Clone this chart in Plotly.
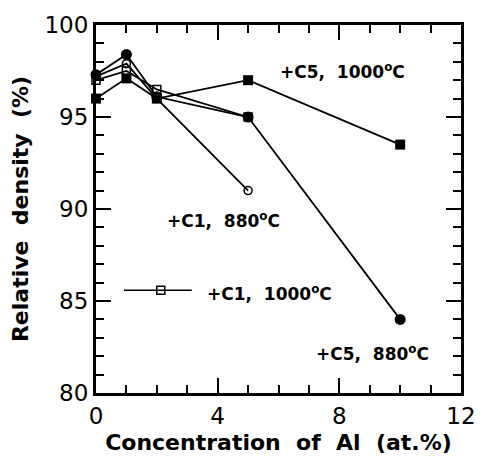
import plotly.graph_objects as go

# Data
al_conc = [0, 1, 2, 5, 10]
al_conc_c1 = [0, 1, 2, 5]
c5_1000 = [96.0, 97.1, 96.0, 97.0, 93.5]
c5_880 = [97.3, 98.4, 96.1, 95.0, 84.0]
c1_880 = [97.2, 97.9, 96.0, 91.0]
c1_1000 = [97.0, 97.5, 96.5, 95.0]

x_ticks = [0, 4, 8, 12]
y_ticks = [80, 85, 90, 95, 100]

LINE = dict(color="black", width=1.8)

fig = go.Figure()
fig.add_trace(go.Scatter(x=al_conc_c1, y=c1_1000, mode="lines+markers", line=LINE,
                         marker=dict(symbol="square-open", size=8, color="black", line=dict(width=1.5)),
                         cliponaxis=False, showlegend=False))
fig.add_trace(go.Scatter(x=al_conc_c1, y=c1_880, mode="lines+markers", line=LINE,
                         marker=dict(symbol="circle-open", size=8, color="black", line=dict(width=1.5)),
                         cliponaxis=False, showlegend=False))
fig.add_trace(go.Scatter(x=al_conc, y=c5_1000, mode="lines+markers", line=LINE,
                         marker=dict(symbol="square", size=10, color="black"),
                         cliponaxis=False, showlegend=False))
fig.add_trace(go.Scatter(x=al_conc, y=c5_880, mode="lines+markers", line=LINE,
                         marker=dict(symbol="circle", size=11, color="black"),
                         cliponaxis=False, showlegend=False))

ann_font = dict(family="DejaVu Sans", size=17, color="black")
labels = [
    ("<b>+C5,\u00a0\u00a01000<sup>o</sup>C</b>", 8.12, 97.5),
    ("<b>+C1,\u00a0\u00a0880<sup>o</sup>C</b>", 4.2, 89.4),
    ("<b>+C1,\u00a0\u00a01000<sup>o</sup>C</b>", 5.7, 85.45),
    ("<b>+C5,\u00a0\u00a0880<sup>o</sup>C</b>", 9.1, 82.2),
]
for text, x, y in labels:
    fig.add_annotation(x=x, y=y, text=text, showarrow=False, font=ann_font,
                       xanchor="center", yanchor="middle")

# legend key for +C1, 1000 C
fig.add_shape(type="line", x0=0.92, x1=3.15, y0=85.58, y1=85.58,
              line=dict(color="black", width=1.5))
fig.add_trace(go.Scatter(x=[2.13], y=[85.58], mode="markers",
                         marker=dict(symbol="square-open", size=8, color="black", line=dict(width=1.5)),
                         showlegend=False, hoverinfo="skip"))

axis_common = dict(
    showline=True, linecolor="black", linewidth=3, mirror="ticks",
    ticks="inside", ticklen=15, tickwidth=2, tickcolor="black",
    showgrid=False, zeroline=False,
    tickfont=dict(family="DejaVu Sans", size=23, color="black"),
)

fig.update_xaxes(range=[0, 12], tickvals=x_ticks, ticktext=[str(v) for v in x_ticks],
                 minor=dict(ticks="inside", ticklen=8, tickwidth=2, tickcolor="black", dtick=1, showgrid=False),
                 title=dict(text="<b>Concentration  of  Al  (at.%)</b>",
                            font=dict(family="DejaVu Sans", size=22, color="black"), standoff=8),
                 **axis_common)
fig.update_yaxes(range=[80, 100], tickvals=y_ticks, ticktext=[str(v) for v in y_ticks],
                 minor=dict(ticks="inside", ticklen=8, tickwidth=2, tickcolor="black", dtick=1, showgrid=False),
                 title=dict(text="<b>Relative  density  (%)</b>",
                            font=dict(family="DejaVu Sans", size=22, color="black"), standoff=10),
                 **axis_common)

fig.update_layout(
    width=488, height=473,
    margin=dict(l=96, r=15, t=13, b=80),
    plot_bgcolor="white", paper_bgcolor="white",
)

fig.write_html("out.html")
